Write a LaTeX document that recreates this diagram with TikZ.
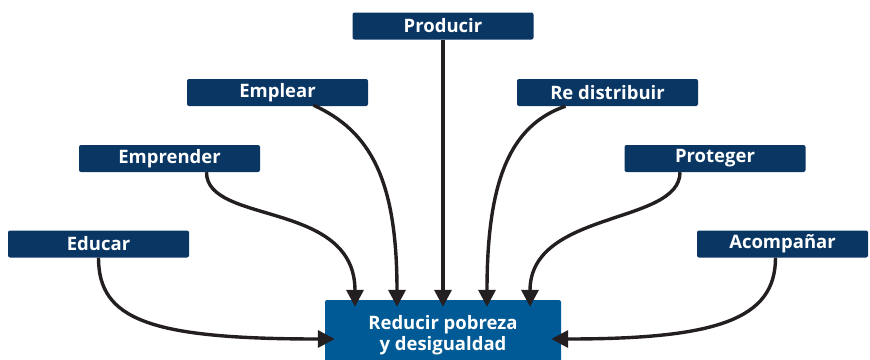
\documentclass[tikz,border=0pt]{standalone}
\usepackage{fontspec}
\setmainfont{Open Sans}
\usetikzlibrary{arrows.meta}
\definecolor{navy}{RGB}{10,54,100}
\definecolor{mainblue}{RGB}{0,90,150}
\definecolor{arrowblk}{RGB}{35,31,32}
\begin{document}
\begin{tikzpicture}[x=1pt,y=-1pt,
  smallbox/.style={fill=navy,rounded corners=2pt,minimum width=181pt,minimum height=27pt,inner sep=0pt,text=white,font=\fontsize{18.5}{21}\selectfont\bfseries},
  mainbox/.style={fill=mainblue,rounded corners=2pt,minimum width=236pt,minimum height=70pt,inner sep=0pt,text=white,align=center,font=\fontsize{18.5}{21}\selectfont\bfseries},
  conn/.style={draw=arrowblk,line width=3.4pt,-{Triangle[length=17pt,width=17pt]}}]
\clip (0,0) rectangle (870,359);
\node[smallbox] (producir) at (443,26) {Producir};
\node[smallbox] (emplear) at (277.5,92.5) {Emplear};
\node[smallbox] (redis) at (607.5,92.5) {Re distribuir};
\node[smallbox] (emprender) at (169.5,158.5) {Emprender};
\node[smallbox] (proteger) at (715,158.5) {Proteger};
\node[smallbox] (educar) at (98.5,244) {Educar};
\node[smallbox,minimum width=171pt] (acomp) at (782.5,244) {Acompañar};
\node[mainbox] (main) at (443,335) {Reducir pobreza\\y desigualdad};
\draw[conn] (educar.south) .. controls +(0,62) and +(-185,0) .. ([xshift=10pt,yshift=-4pt]main.west);
\draw[conn] ([xshift=-7pt]acomp.south) .. controls +(0,62) and +(165,0) .. ([xshift=-10pt,yshift=-4pt]main.east);
\draw[conn] ([xshift=37pt]emprender.south) .. controls +(0,53) and +(0,-107) .. ([xshift=-88pt,yshift=-7pt]main.north);
\draw[conn] ([xshift=36pt,yshift=1pt]emplear.south) .. controls +(57,26) and +(0,-127) .. ([xshift=-46pt,yshift=-7pt]main.north);
\draw[conn] (producir.south) -- ([yshift=-7pt]main.north);
\draw[conn] ([xshift=-42pt]redis.south) .. controls +(-55,19) and +(0,-127) .. ([xshift=44pt,yshift=-7pt]main.north);
\draw[conn] ([xshift=-35pt]proteger.south) .. controls +(0,53) and +(0,-97) .. ([xshift=87pt,yshift=-7pt]main.north);
\end{tikzpicture}
\end{document}
